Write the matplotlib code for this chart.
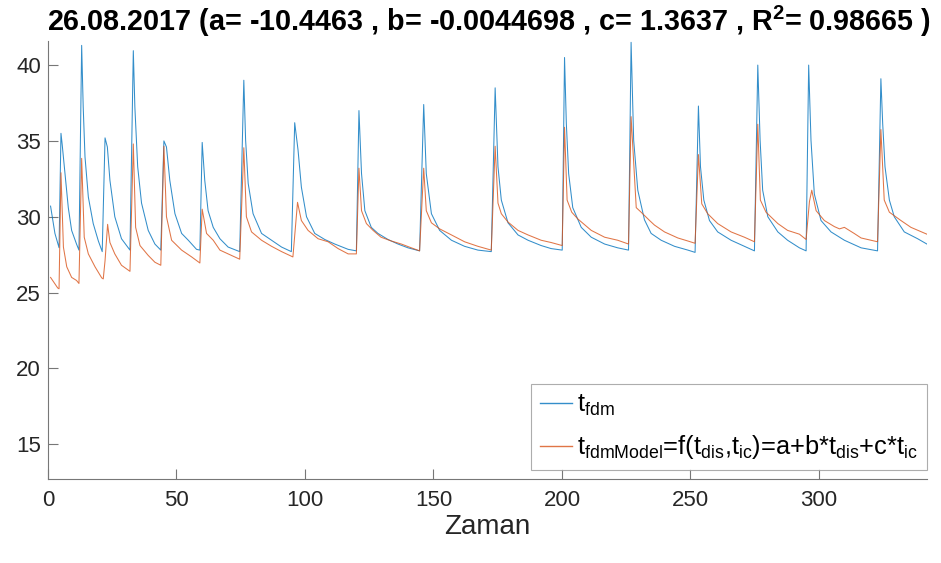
import matplotlib
matplotlib.use("Agg")
import matplotlib.pyplot as plt

plt.rcParams['font.family'] = ['Liberation Sans', 'DejaVu Sans']
plt.rcParams['mathtext.fontset'] = 'custom'
plt.rcParams['mathtext.rm'] = 'Liberation Sans'
plt.rcParams['mathtext.it'] = 'Liberation Sans:italic'
plt.rcParams['mathtext.bf'] = 'Liberation Sans:bold'

# measured series t_fdm
fdm_time = [1, 2.7, 4.3, 5.05, 5.5, 6.6, 7.9, 9.2, 11.1, 12.05,
            13.1, 13.7, 14.4, 15.7, 17.6, 19.6, 21.1,
            22.2, 23.1, 24.1, 26.0, 28.6, 31.9,
            33.2, 33.8, 34.9, 36.4, 39.0, 41.6, 43.9,
            45.1, 46.1, 47.4, 49.4, 52.0, 54.6, 57.8, 59.1,
            60.0, 61.0, 62.3, 64.3, 66.9, 70.1, 74.6,
            76.2, 76.9, 77.9, 79.8, 83.1, 87.0, 90.9, 94.7,
            96.0, 97.3, 98.6, 100.6, 103.8, 107.7, 111.6, 116.8, 120.0,
            121.0, 122.0, 123.3, 125.8, 128.4, 132.3, 136.2, 140.1, 144.6,
            146.2, 147.2, 149.2, 152.4, 157.0, 162.1, 167.3, 172.5,
            174.0, 175.1, 176.4, 179.0, 182.9, 186.8, 191.9, 195.8, 200.1,
            201.0, 201.7, 202.6, 204.2, 207.5, 211.4, 216.6, 221.7, 225.9,
            226.9, 227.9, 229.5, 232.1, 234.7, 238.6, 243.8, 249.0, 251.8,
            253.1, 253.9, 255.2, 257.4, 260.6, 265.8, 271.0, 274.9,
            276.2, 277.1, 278.1, 280.1, 284.0, 287.8, 292.4, 295.0,
            296.0, 296.9, 298.2, 300.8, 304.7, 309.9, 316.4, 322.8,
            324.1, 324.8, 325.7, 327.4, 329.3, 333.2, 338.4, 342.0]
fdm_vals = [30.7, 28.9, 27.96, 35.5, 34.8, 32.85, 30.6, 29.1, 28.2, 27.8,
            41.3, 37.25, 33.95, 31.3, 29.55, 28.4, 27.7,
            35.2, 34.6, 32.4, 30.0, 28.55, 27.8,
            40.95, 37.25, 33.3, 30.9, 29.1, 28.2, 27.8,
            35.0, 34.6, 32.4, 30.2, 28.9, 28.45, 27.85, 27.8,
            34.9, 32.4, 30.4, 29.3, 28.55, 28.0, 27.7,
            39.0, 35.05, 32.2, 30.2, 28.9, 28.45, 28.0, 27.7,
            36.2, 34.4, 31.95, 30.0, 28.9, 28.5, 28.2, 27.85, 27.75,
            37.0, 32.85, 30.4, 29.3, 28.9, 28.5, 28.2, 27.95, 27.75,
            37.4, 32.85, 30.2, 29.1, 28.45, 28.05, 27.8, 27.7,
            38.5, 33.3, 31.1, 29.6, 28.8, 28.45, 28.1, 27.9, 27.8,
            40.5, 36.15, 32.85, 30.6, 29.3, 28.65, 28.2, 27.95, 27.8,
            41.5, 35.05, 31.75, 29.8, 28.9, 28.45, 28.05, 27.8, 27.65,
            37.3, 33.3, 31.1, 29.75, 29.0, 28.45, 28.05, 27.75,
            40.0, 35.05, 31.75, 30.0, 29.0, 28.45, 27.95, 27.75,
            40.0, 35.05, 31.5, 29.75, 29.0, 28.45, 27.95, 27.75,
            39.1, 36.15, 33.3, 31.1, 30.0, 29.0, 28.55, 28.2]

# model series t_fdmModel
model_time = [1, 3.8, 4.3, 5.05, 6.0, 7.3, 9.2, 11.1, 12.05,
              13.1, 14.1, 15.7, 18.3, 20.9, 21.5, 22.2, 23.2,
              24.1, 26.0, 28.6, 31.9,
              33.2, 34.1, 35.8, 39.0, 41.6, 43.9,
              45.1, 46.1, 48.1, 52.0, 55.9, 59.1,
              60.0, 61.7, 64.3, 66.9, 70.1, 74.6,
              76.2, 77.2, 79.2, 83.1, 87.0, 90.9, 95.3,
              97.1, 98.6, 101.2, 105.1, 109.0, 112.9, 116.8, 120.0,
              121.0, 122.0, 123.9, 126.5, 129.6, 133.6, 137.5, 141.4, 144.6,
              146.2, 147.2, 149.2, 152.4, 157.0, 162.1, 167.3, 172.5,
              174.0, 175.1, 176.4, 179.0, 182.9, 186.8, 191.9, 195.8, 200.1,
              201.0, 202.0, 203.8, 206.2, 211.4, 216.6, 221.7, 225.9,
              226.9, 228.9, 230.8, 234.1, 236.0, 239.9, 245.1, 249.0, 251.8,
              253.1, 254.4, 256.7, 260.6, 265.8, 271.0, 274.9,
              276.2, 277.2, 279.4, 284.0, 287.8, 292.4, 295.0,
              296.3, 297.2, 298.9, 302.1, 306.0, 308.0, 309.9, 313.7, 316.4, 322.8,
              324.1, 325.4, 327.4, 331.9, 335.8, 342.0]
model_vals = [26.0, 25.3, 25.25, 32.9, 28.0, 26.7, 26.0, 25.8, 25.6,
              33.85, 28.65, 27.55, 26.7, 25.97, 25.9, 27.1, 29.5,
              28.3, 27.55, 26.8, 26.4,
              34.8, 29.3, 28.1, 27.45, 27.0, 26.8,
              34.65, 30.0, 28.45, 27.8, 27.35, 26.95,
              30.5, 28.9, 28.45, 27.8, 27.55, 27.2,
              34.55, 30.0, 29.0, 28.45, 28.05, 27.7, 27.35,
              30.95, 29.75, 29.1, 28.55, 28.35, 27.9, 27.55, 27.55,
              33.2, 30.4, 29.55, 29.1, 28.65, 28.4, 28.2, 27.95, 27.75,
              33.2, 30.4, 29.6, 29.2, 28.8, 28.35, 28.05, 27.8,
              34.65, 30.9, 30.2, 29.65, 29.1, 28.8, 28.45, 28.3, 28.1,
              35.9, 31.1, 30.3, 29.85, 29.1, 28.65, 28.45, 28.2,
              36.6, 30.6, 30.3, 29.75, 29.45, 29.0, 28.6, 28.4, 28.25,
              34.1, 30.85, 30.2, 29.55, 29.0, 28.65, 28.35,
              36.1, 31.1, 30.3, 29.55, 29.1, 28.85, 28.5,
              31.0, 31.75, 30.4, 29.75, 29.35, 29.2, 29.3, 28.9, 28.6, 28.35,
              35.75, 31.1, 30.3, 29.75, 29.3, 28.85]

title_text = r'26.08.2017 (a= -10.4463 , b= -0.0044698 , c= 1.3637 , R$^{\mathbf{2}}$= 0.98665 )'
x_label = 'Zaman'
x_ticks = [0, 50, 100, 150, 200, 250, 300]
y_ticks = [15, 20, 25, 30, 35, 40]
legend_labels = [r't$\mathregular{_{fdm}}$',
                 r't$\mathregular{_{fdmModel}}$=f(t$\mathregular{_{dis}}$,t$\mathregular{_{ic}}$)'
                 r'=a+b*t$\mathregular{_{dis}}$+c*t$\mathregular{_{ic}}$']

blue = (0.0, 0.447, 0.741)
orange = (0.85, 0.325, 0.098)

fig = plt.figure(figsize=(9.41, 5.63), dpi=100)
ax = fig.add_axes([0.051, 0.149, 0.934, 0.7785])

ax.plot(fdm_time, fdm_vals, color=blue, lw=0.75, alpha=0.8, label=legend_labels[0])
ax.plot(model_time, model_vals, color=orange, lw=0.75, alpha=0.8, label=legend_labels[1])

ax.set_xlim(0, 342)
ax.set_ylim(12.7, 41.6)
ax.set_xticks(x_ticks)
ax.set_yticks(y_ticks)

for s in ['top', 'right']:
    ax.spines[s].set_visible(False)
for s in ['left', 'bottom']:
    ax.spines[s].set_color('#777777')
    ax.spines[s].set_linewidth(0.8)
ax.tick_params(direction='in', length=7, width=0.8, color='#777777',
               labelsize=16, labelcolor='#262626', pad=5)
ax.tick_params(axis='x', pad=8)

ax.set_xlabel(x_label, fontsize=20, color='#262626', labelpad=2)
fig.text(47 / 941, 1 - 21 / 563, title_text, fontsize=20.7, fontweight='bold',
         ha='left', va='center')

leg = ax.legend(loc='lower right', bbox_to_anchor=(1.0, 0.02), fontsize=18.3,
                frameon=True, fancybox=False, edgecolor='#999999',
                borderaxespad=0.0, handlelength=1.25, handletextpad=0.2,
                labelspacing=0.6, borderpad=0.35)
leg.get_frame().set_linewidth(0.8)
for h in leg.get_lines():
    h.set_linewidth(1.0)

fig.savefig('out.png', dpi=100)
